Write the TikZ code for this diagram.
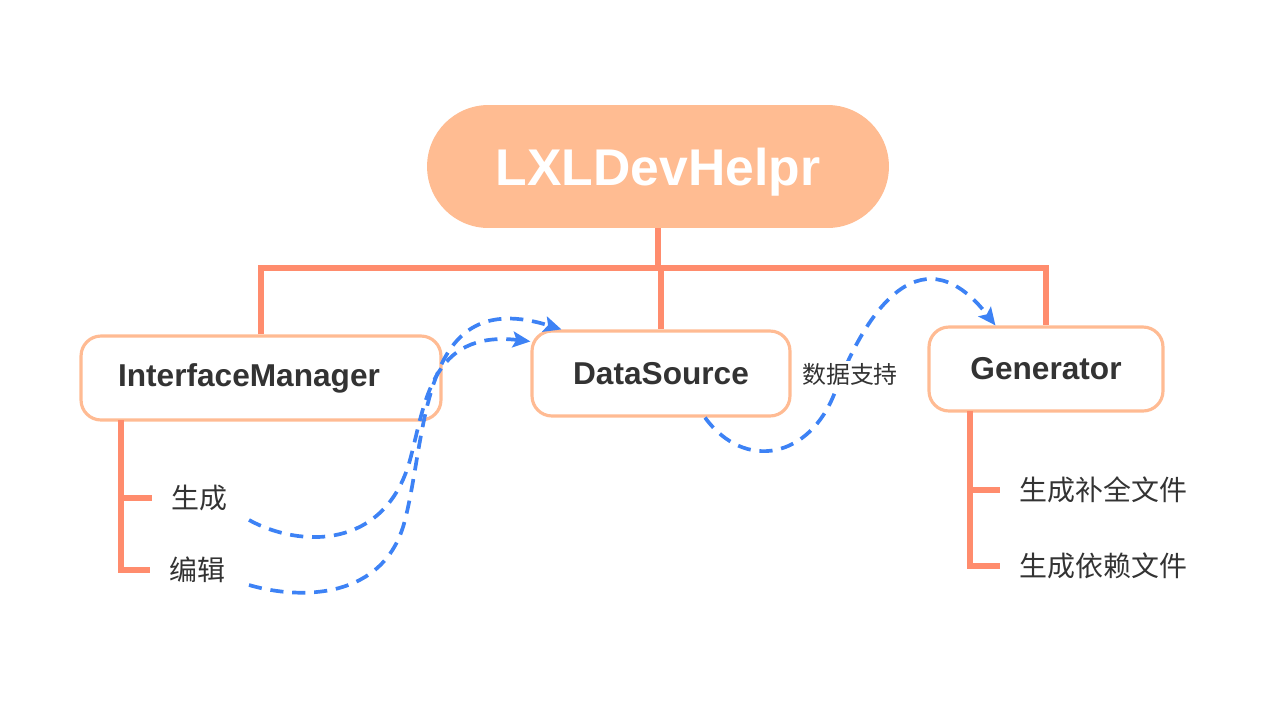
\documentclass[tikz,border=0pt]{standalone}
\usepackage{fontspec}
\setmainfont{Liberation Sans}
\newfontfamily\cjk{Noto Sans CJK SC}
\usepackage{tikz}
\usetikzlibrary{arrows.meta}
\usetikzlibrary{positioning}
\definecolor{peach}{HTML}{FFBC92}
\definecolor{edge}{HTML}{FFBB93}
\definecolor{trunkc}{HTML}{FF8C6D}
\definecolor{flowc}{HTML}{3D82F5}
\definecolor{ink}{HTML}{333333}
\tikzset{title/.style = {fill = peach, text = white, rounded corners = 1.23cm, minimum width = 9.24cm, minimum height = 2.46cm, text depth = 0pt, font = \fontsize{29.4}{34}\selectfont\bfseries}}
\tikzset{box/.style = {draw = edge, line width = 1.8pt, fill = white, rounded corners = 0.4cm, minimum height = 1.68cm, text = ink, font = \fontsize{18}{22}\selectfont\bfseries}}
\tikzset{leaf/.style = {anchor = west, inner xsep = 0.38cm, text = ink, font = \fontsize{15.9}{19}\selectfont\cjk}}
\tikzset{trunk/.style = {draw = trunkc, line width = 2.9pt}}
\tikzset{flow/.style = {draw = flowc, line width = 2.1pt, dash pattern = on 7.5pt off 5pt, -{Stealth[length = 10pt, width = 9pt, inset = 2pt]}}}
\begin{document}
\begin{tikzpicture}[x = 0.02cm, y = -0.02cm]
  \useasboundingbox (0, 0) rectangle (1288, 701);

  \node [title] (top) at (658, 166.5) {LXLDevHelpr};
  \coordinate (bar) at (658, 268);
  \draw [trunk] (top.south) -- (bar);

  \node [box, minimum width = 7.2cm] (im) at (261, 378) {InterfaceManager\kern0.48cm};
  \node [box, minimum width = 5.16cm, minimum height = 1.7cm] (ds) at (661, 373.5) {DataSource};
  \node [box, minimum width = 4.68cm] (gen) at (1046, 369) {Generator};

  \draw [trunk] (im.north) |- (bar) -| (gen.north);
  \draw [trunk] (bar -| ds.north) -- (ds.north);

  % children
  \node [leaf] (make) at (152, 498) {生成};
  \node [leaf] (edit) at (150, 570) {编辑};
  \coordinate (imroot) at (121, 420);
  \draw [trunk] (imroot) |- (edit.west);
  \draw [trunk] (imroot |- make.west) -- (make.west);

  \node [leaf] (fill) at (1000, 490) {生成补全文件};
  \node [leaf] (deps) at (1000, 566) {生成依赖文件};
  \coordinate (genroot) at (970, 411);
  \draw [trunk] (genroot) |- (deps.west);
  \draw [trunk] (genroot |- fill.west) -- (fill.west);

  % flows
  \draw [flow] (249, 520) .. controls (300, 548) and (385, 550) .. (410, 460)
    .. controls (425, 405) and (430, 330) .. ([yshift = -12*0.02cm]ds.north west);
  \draw [flow] (249, 585) .. controls (300, 600) and (385, 600) .. (405, 520)
    .. controls (428, 430) and (420, 285) .. ([xshift = 31*0.02cm]ds.north west);
  \draw [flow] ([xshift = 44*0.02cm]ds.south) .. controls (745, 472) and (810, 458) .. (835, 392)
    .. controls (870, 300) and (925, 235) .. ([xshift = 68*0.02cm]gen.north west);
  \node [fill = white, inner sep = 1pt, text = ink, font = \fontsize{13.6}{16}\selectfont\cjk] (note) at (850, 374) {数据支持};
\end{tikzpicture}
\end{document}
